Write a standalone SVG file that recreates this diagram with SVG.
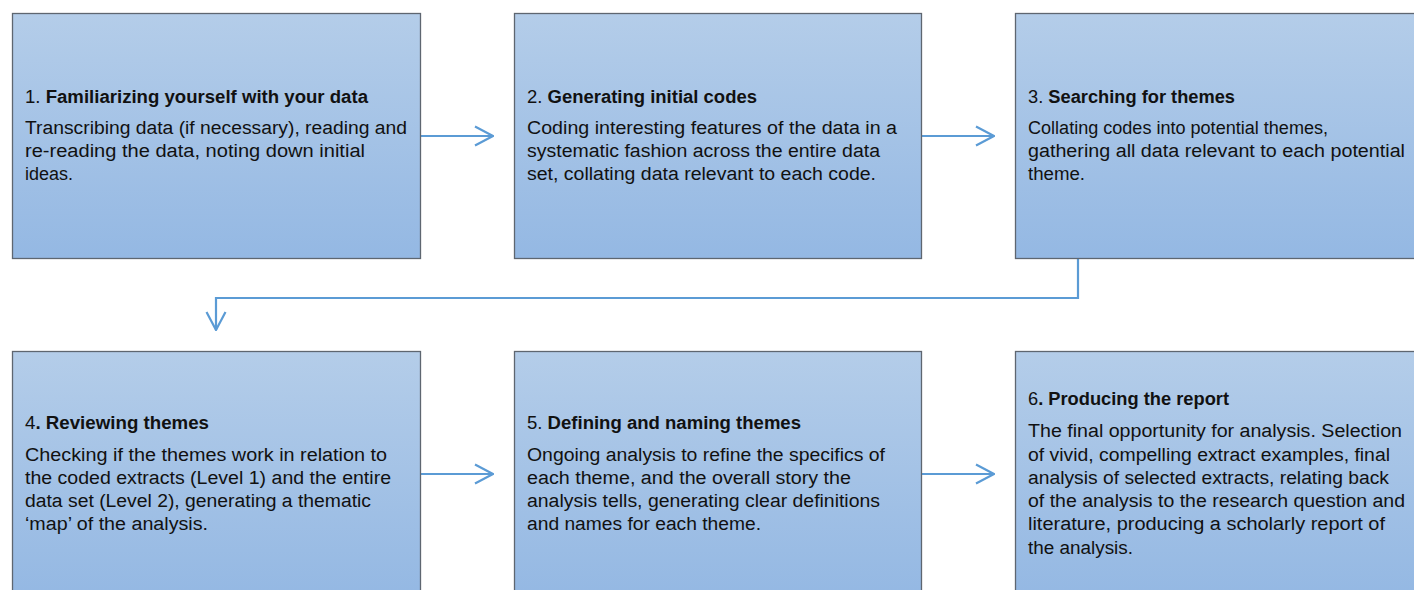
<svg xmlns="http://www.w3.org/2000/svg" width="1414" height="590" viewBox="0 0 1414 590">
<defs>
<linearGradient id="g" x1="0" y1="0" x2="0" y2="1">
<stop offset="0" stop-color="#B4CDE9"/>
<stop offset="1" stop-color="#94B8E3"/>
</linearGradient>
<marker id="ah" viewBox="0 0 20 22" refX="19" refY="11" markerWidth="20" markerHeight="22" markerUnits="userSpaceOnUse" orient="auto">
<path d="M1,1.5 L19,11 L1,20.5" fill="none" stroke="#5B9BD5" stroke-width="2.2"/>
</marker>
<style>
.box{fill:url(#g);stroke:#5E6670;stroke-width:1.3}
text{font-family:"Liberation Sans",Arial,sans-serif;font-size:18px;fill:#111}
.b{font-weight:bold}
.c{fill:none;stroke:#5B9BD5;stroke-width:2.2}
</style>
</defs>
<rect width="1414" height="590" fill="#fff"/>
<g id="connectors">
<line class="c" x1="421" y1="136" x2="493" y2="136" marker-end="url(#ah)"/>
<line class="c" x1="922" y1="136" x2="994" y2="136" marker-end="url(#ah)"/>
<polyline class="c" points="1078,258 1078,298 216,298 216,330" marker-end="url(#ah)"/>
<line class="c" x1="421" y1="474" x2="493" y2="474" marker-end="url(#ah)"/>
<line class="c" x1="922" y1="474" x2="994" y2="474" marker-end="url(#ah)"/>
</g>
<g id="n1">
<rect class="box" x="12.5" y="13.5" width="408" height="245"/>
<text x="25" y="103" textLength="343" lengthAdjust="spacingAndGlyphs">1. <tspan class="b">Familiarizing yourself with your data</tspan></text>
<text x="25" y="134" textLength="382" lengthAdjust="spacingAndGlyphs">Transcribing data (if necessary), reading and</text>
<text x="25" y="157" textLength="340" lengthAdjust="spacingAndGlyphs">re-reading the data, noting down initial</text>
<text x="25" y="180" textLength="48" lengthAdjust="spacingAndGlyphs">ideas.</text>
</g>
<g id="n2">
<rect class="box" x="514.5" y="13.5" width="407" height="245"/>
<text x="527" y="103" textLength="230" lengthAdjust="spacingAndGlyphs">2. <tspan class="b">Generating initial codes</tspan></text>
<text x="527" y="134" textLength="370" lengthAdjust="spacingAndGlyphs">Coding interesting features of the data in a</text>
<text x="527" y="157" textLength="353" lengthAdjust="spacingAndGlyphs">systematic fashion across the entire data</text>
<text x="527" y="180" textLength="349" lengthAdjust="spacingAndGlyphs">set, collating data relevant to each code.</text>
</g>
<g id="n3">
<rect class="box" x="1015.5" y="13.5" width="410" height="245"/>
<text x="1028" y="103" textLength="207" lengthAdjust="spacingAndGlyphs">3. <tspan class="b">Searching for themes</tspan></text>
<text x="1028" y="134" textLength="300" lengthAdjust="spacingAndGlyphs">Collating codes into potential themes,</text>
<text x="1028" y="157" textLength="377" lengthAdjust="spacingAndGlyphs">gathering all data relevant to each potential</text>
<text x="1028" y="180" textLength="57" lengthAdjust="spacingAndGlyphs">theme.</text>
</g>
<g id="n4">
<rect class="box" x="12.5" y="351.5" width="408" height="245"/>
<text x="25" y="429" textLength="184" lengthAdjust="spacingAndGlyphs">4<tspan class="b">. Reviewing themes</tspan></text>
<text x="25" y="461" textLength="362" lengthAdjust="spacingAndGlyphs">Checking if the themes work in relation to</text>
<text x="25" y="484" textLength="366" lengthAdjust="spacingAndGlyphs">the coded extracts (Level 1) and the entire</text>
<text x="25" y="507" textLength="346" lengthAdjust="spacingAndGlyphs">data set (Level 2), generating a thematic</text>
<text x="25" y="530" textLength="183" lengthAdjust="spacingAndGlyphs">‘map’ of the analysis.</text>
</g>
<g id="n5">
<rect class="box" x="514.5" y="351.5" width="407" height="245"/>
<text x="527" y="429" textLength="274" lengthAdjust="spacingAndGlyphs">5. <tspan class="b">Defining and naming themes</tspan></text>
<text x="527" y="461" textLength="358" lengthAdjust="spacingAndGlyphs">Ongoing analysis to refine the specifics of</text>
<text x="527" y="484" textLength="324" lengthAdjust="spacingAndGlyphs">each theme, and the overall story the</text>
<text x="527" y="507" textLength="353" lengthAdjust="spacingAndGlyphs">analysis tells, generating clear definitions</text>
<text x="527" y="530" textLength="234" lengthAdjust="spacingAndGlyphs">and names for each theme.</text>
</g>
<g id="n6">
<rect class="box" x="1015.5" y="351.5" width="410" height="245"/>
<text x="1028" y="405" textLength="201" lengthAdjust="spacingAndGlyphs">6<tspan class="b">. Producing the report</tspan></text>
<text x="1028" y="437" textLength="374" lengthAdjust="spacingAndGlyphs">The final opportunity for analysis. Selection</text>
<text x="1028" y="461" textLength="362" lengthAdjust="spacingAndGlyphs">of vivid, compelling extract examples, final</text>
<text x="1028" y="484" textLength="361" lengthAdjust="spacingAndGlyphs">analysis of selected extracts, relating back</text>
<text x="1028" y="507" textLength="377" lengthAdjust="spacingAndGlyphs">of the analysis to the research question and</text>
<text x="1028" y="530" textLength="357" lengthAdjust="spacingAndGlyphs">literature, producing a scholarly report of</text>
<text x="1028" y="554" textLength="105" lengthAdjust="spacingAndGlyphs">the analysis.</text>
</g>
</svg>
